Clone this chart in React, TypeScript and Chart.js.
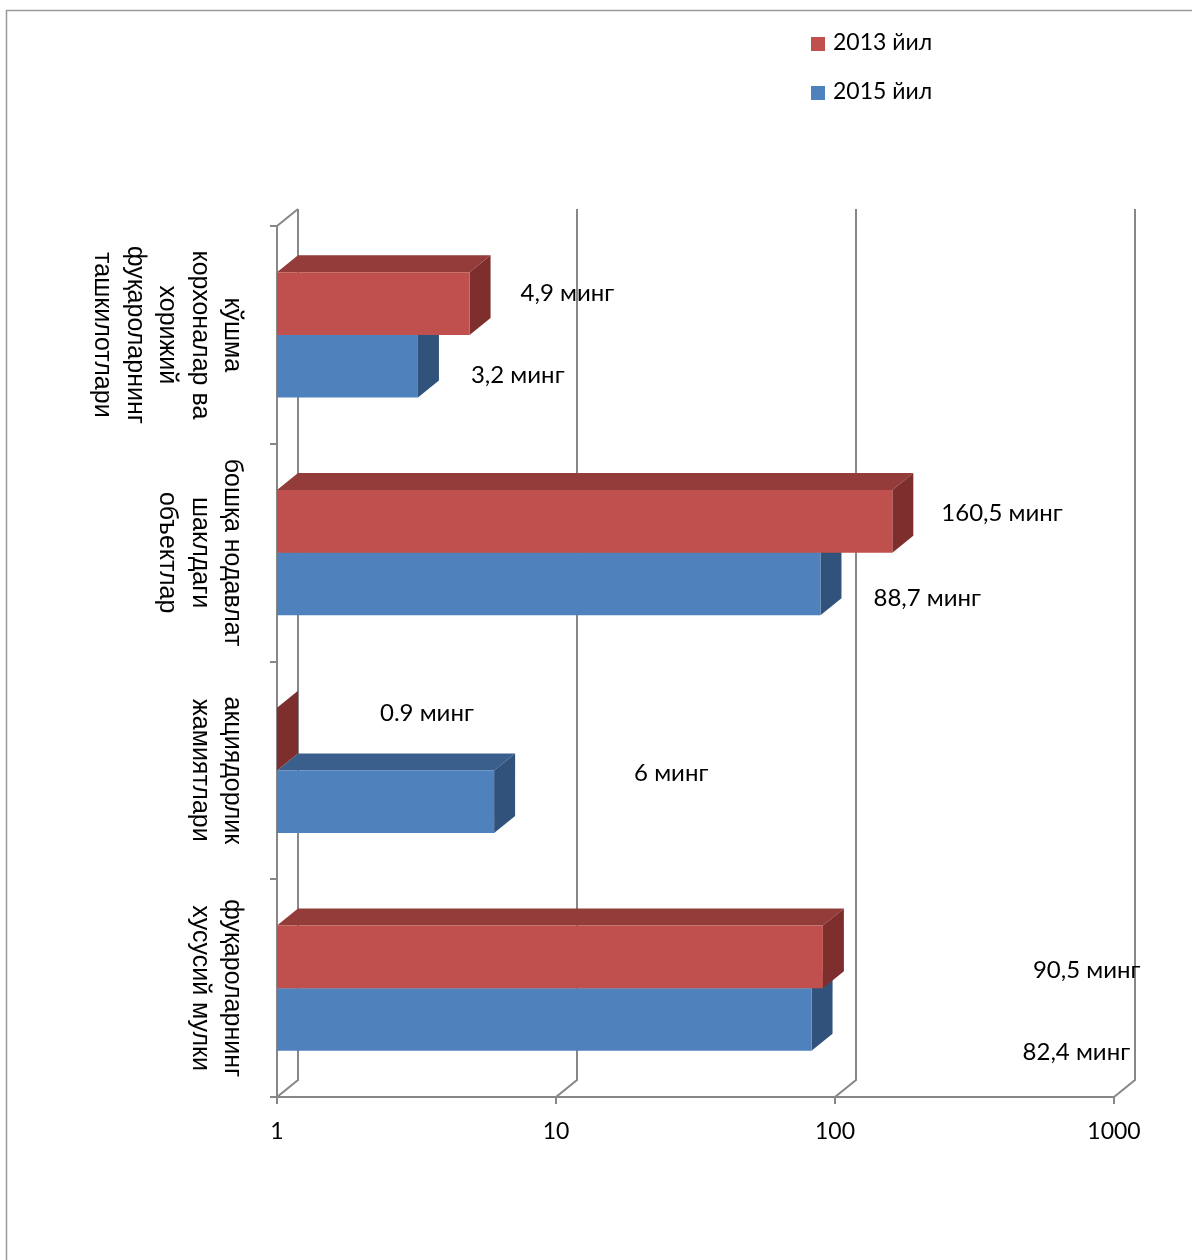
import React, { useEffect, useRef } from "react";
import { Chart, registerables } from "chart.js";

Chart.register(...registerables);

// ---- data ----
const categories: string[][] = [
  ["кўшма", "корхоналар ва", "хорижий", "фуқароларнинг", "ташкилотлари"],
  ["бошқа нодавлат", "шаклдаги", "объектлар"],
  ["акциядорлик", "жамиятлари"],
  ["фуқароларнинг", "хусусий мулки"],
];
const seriesNames = ["2013 йил", "2015 йил"];
const values2013 = [4.9, 160.5, 0.9, 90.5];
const values2015 = [3.2, 88.7, 6, 82.4];
const labels2013 = ["4,9 минг", "160,5 минг", "0.9 минг", "90,5 минг"];
const labels2015 = ["3,2 минг", "88,7 минг", "6 минг", "82,4 минг"];
const xTicks = [1, 10, 100, 1000];

// label nudges in px: [gap after bar's side face, vertical offset from bar centre]
const nudge2013 = [[30, -11], [28, -8], [82, -26], [189, 13]];
const nudge2015 = [[32, 9], [32, 14], [119, -29], [190, 33]];

// ---- styles ----
const frontColors = ["#C0504D", "#4F81BD"];
const topColors = ["#943C3A", "#3B5F8D"];
const sideColors = ["#7E2F2D", "#30527B"];
const GRID = "#878787";
const DX = 21;
const DY = -17;
const LABEL_FONT = "24px Lato";
const TEXT_FONT = "23px Lato";
const CAT_FONT = "25px 'Liberation Sans'";

const threeD = {
  id: "threeD",
  beforeDatasetsDraw(chart: any) {
    const { ctx, chartArea: a } = chart;
    const xs = chart.scales.x;
    ctx.save();
    ctx.strokeStyle = GRID;
    ctx.lineWidth = 2;
    ctx.beginPath();
    ctx.moveTo(a.left, a.top);
    ctx.lineTo(a.left + DX, a.top + DY);
    for (const v of xTicks) {
      const px = xs.getPixelForValue(v);
      ctx.moveTo(px + DX, a.top + DY);
      ctx.lineTo(px + DX, a.bottom + DY);
      ctx.lineTo(px, a.bottom);
    }
    ctx.stroke();

    for (let d = chart.data.datasets.length - 1; d >= 0; d--) {
      const meta = chart.getDatasetMeta(d);
      meta.data.forEach((bar: any) => {
        const p = bar.getProps(["x", "y", "base", "height"], true);
        const x0 = Math.max(Math.min(p.base, p.x), a.left);
        const x1 = Math.max(p.x, a.left);
        const t = p.y - p.height / 2;
        const b = p.y + p.height / 2;
        ctx.fillStyle = topColors[d];
        ctx.beginPath();
        ctx.moveTo(x0, t);
        ctx.lineTo(x1, t);
        ctx.lineTo(x1 + DX, t + DY);
        ctx.lineTo(x0 + DX, t + DY);
        ctx.closePath();
        ctx.fill();
        ctx.fillStyle = sideColors[d];
        ctx.beginPath();
        ctx.moveTo(x1, t);
        ctx.lineTo(x1, b);
        ctx.lineTo(x1 + DX, b + DY);
        ctx.lineTo(x1 + DX, t + DY);
        ctx.closePath();
        ctx.fill();
      });
    }
    ctx.restore();
  },
  afterDraw(chart: any) {
    const { ctx, chartArea: a } = chart;
    const xs = chart.scales.x;
    const ys = chart.scales.y;
    ctx.save();

    // outer frame
    ctx.strokeStyle = "#9a9a9a";
    ctx.lineWidth = 1.5;
    ctx.beginPath();
    ctx.moveTo(6.5, chart.height);
    ctx.lineTo(6.5, 10.5);
    ctx.lineTo(chart.width, 10.5);
    ctx.stroke();

    // data labels
    ctx.fillStyle = "#000";
    ctx.font = LABEL_FONT;
    ctx.textAlign = "left";
    ctx.textBaseline = "alphabetic";
    const lbls = [labels2013, labels2015];
    const nudges = [nudge2013, nudge2015];
    for (let d = 0; d < 2; d++) {
      const meta = chart.getDatasetMeta(d);
      meta.data.forEach((bar: any, i: number) => {
        const p = bar.getProps(["x", "y"], true);
        const x1 = Math.max(p.x, a.left) + DX;
        ctx.fillText(lbls[d][i], x1 + nudges[d][i][0], p.y + nudges[d][i][1] + 8);
      });
    }

    // x tick labels
    ctx.font = TEXT_FONT;
    ctx.textAlign = "center";
    for (const v of xTicks) {
      ctx.fillText(String(v), xs.getPixelForValue(v), a.bottom + 42);
    }

    // category labels (rotated)
    ctx.font = CAT_FONT;
    ctx.textBaseline = "middle";
    categories.forEach((lines, i) => {
      const cy = ys.getPixelForValue(i);
      lines.forEach((line, j) => {
        ctx.save();
        ctx.translate(232 - 32.5 * j, cy);
        ctx.rotate(Math.PI / 2);
        ctx.fillText(line, 0, 0);
        ctx.restore();
      });
    });

    // legend
    ctx.font = TEXT_FONT;
    ctx.textAlign = "left";
    ctx.textBaseline = "alphabetic";
    seriesNames.forEach((name, i) => {
      const top = 37 + 49 * i;
      ctx.fillStyle = frontColors[i];
      ctx.fillRect(811, top, 14, 14);
      ctx.fillStyle = "#000";
      ctx.fillText(name, 833, top + 13);
    });
    ctx.restore();
  },
};

export default function App() {
  const ref = useRef<HTMLCanvasElement>(null);
  useEffect(() => {
    if (!ref.current) return;
    const chart = new Chart(ref.current, {
      type: "bar",
      data: {
        labels: categories.map((c) => c.join(" ")),
        datasets: [
          { label: seriesNames[0], data: values2013, backgroundColor: frontColors[0], borderWidth: 0 },
          { label: seriesNames[1], data: values2015, backgroundColor: frontColors[1], borderWidth: 0 },
        ],
      },
      options: {
        indexAxis: "y",
        animation: false,
        responsive: false,
        devicePixelRatio: 1,
        layout: { padding: { left: 267, right: 78, top: 226, bottom: 103 } },
        datasets: { bar: { categoryPercentage: 0.575, barPercentage: 1 } },
        plugins: { legend: { display: false }, tooltip: { enabled: false } },
        scales: {
          x: {
            type: "logarithmic",
            min: 1,
            max: 1000,
            afterBuildTicks: (s: any) => {
              s.ticks = xTicks.map((v) => ({ value: v }));
            },
            afterFit: (s: any) => {
              s.height = 60;
            },
            ticks: { display: false },
            grid: { display: true, drawOnChartArea: false, drawTicks: true, tickLength: 7, color: GRID, lineWidth: 2 },
            border: { display: true, color: GRID, width: 2 },
          },
          y: {
            type: "category",
            offset: true,
            afterFit: (s: any) => {
              s.width = 10;
            },
            ticks: { display: false },
            grid: { display: true, offset: true, drawOnChartArea: false, drawTicks: true, tickLength: 7, color: GRID, lineWidth: 2 },
            border: { display: true, color: GRID, width: 2 },
          },
        },
      } as any,
      plugins: [threeD],
    });
    return () => chart.destroy();
  }, []);
  return (
    <div style={{ position: "absolute", left: 0, top: 0, width: 1192, height: 1260, background: "#fff" }}>
      <canvas ref={ref} width={1192} height={1260} style={{ width: 1192, height: 1260, display: "block" }} />
    </div>
  );
}
